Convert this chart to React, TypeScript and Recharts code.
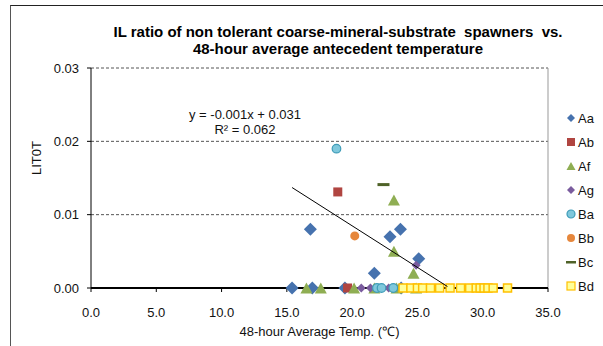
import React from "react";
import { ScatterChart, Scatter, XAxis, YAxis, CartesianGrid, ReferenceLine, Label } from "recharts";

const xTicks = [0, 5, 10, 15, 20, 25, 30, 35];
const yTicks = [0, 0.01, 0.02, 0.03];

const aaX = [15.4, 16.8, 16.95, 19.45, 21.7, 22.9, 23.7, 25.1, 23.75];
const aaY = [0, 0.008, 0, 0, 0.002, 0.007, 0.008, 0.004, 0];
const abX = [18.9, 19.65];
const abY = [0.0131, 0];
const afX = [23.2, 23.2, 24.7, 16.5, 17.6, 20.15, 21.7, 23.4, 24.9];
const afY = [0.012, 0.005, 0.002, 0, 0, 0, 0, 0, 0];
const agX = [24.9, 20.7, 21.4, 22.8];
const agY = [0.0031, 0, 0, 0];
const baX = [18.8, 21.9, 22.25, 23.15];
const baY = [0.019, 0, 0, 0];
const bbX = [20.2];
const bbY = [0.0071];
const bcX = [22.4];
const bcY = [0.0141];
const bdX = [23.9, 24.5, 25.0, 25.4, 26.0, 26.7, 27.5, 28.3, 29.0, 29.5, 29.8, 30.1, 30.4, 30.8, 31.9];
const bdY = [0, 0, 0, 0, 0, 0, 0, 0, 0, 0, 0, 0, 0, 0, 0];
const trendX = [15.4, 27.3];
const trendY = [0.0137, 0.0002];

const zip = (xs: number[], ys: number[]) => xs.map((x, i) => ({ x, y: ys[i] }));

const FONT = "'Liberation Sans', Arial, sans-serif";

const diamond = (r: number, fill: string) => (p: any) => (
  <path d={`M${p.cx},${p.cy - r}L${p.cx + r},${p.cy}L${p.cx},${p.cy + r}L${p.cx - r},${p.cy}Z`} fill={fill} />
);
const square = (s: number, fill: string, stroke?: string) => (p: any) => (
  <rect x={p.cx - s / 2} y={p.cy - s / 2} width={s} height={s} fill={fill} stroke={stroke || "none"} strokeWidth={stroke ? 1.5 : 0} />
);
const triangle = (w: number, h: number, fill: string) => (p: any) => (
  <path d={`M${p.cx},${p.cy - h / 2}L${p.cx + w / 2},${p.cy + h / 2}L${p.cx - w / 2},${p.cy + h / 2}Z`} fill={fill} />
);
const circle = (r: number, fill: string, stroke?: string) => (p: any) => (
  <circle cx={p.cx} cy={p.cy} r={r} fill={fill} stroke={stroke || "none"} strokeWidth={stroke ? 1.2 : 0} />
);
const dash = (w: number, h: number, fill: string) => (p: any) => (
  <rect x={p.cx - w / 2} y={p.cy - h / 2} width={w} height={h} fill={fill} />
);

const series = [
  { name: "Aa", xs: aaX, ys: aaY, shape: diamond(6.5, "#4672AE"), icon: "diamond", color: "#4672AE" },
  { name: "Ab", xs: abX, ys: abY, shape: square(9, "#B04541"), icon: "square", color: "#B04541" },
  { name: "Af", xs: afX, ys: afY, shape: triangle(12, 11, "#8FAE53"), icon: "triangle", color: "#8FAE53" },
  { name: "Ag", xs: agX, ys: agY, shape: diamond(4.5, "#7A5C9E"), icon: "diamond", color: "#7A5C9E" },
  { name: "Ba", xs: baX, ys: baY, shape: circle(4.3, "#7FC8DC", "#3F9CB8"), icon: "circle", color: "#7FC8DC", stroke: "#3F9CB8" },
  { name: "Bb", xs: bbX, ys: bbY, shape: circle(4.5, "#E6873C"), icon: "circle", color: "#E6873C" },
  { name: "Bc", xs: bcX, ys: bcY, shape: dash(12, 3, "#4F6228"), icon: "dash", color: "#4F6228" },
  { name: "Bd", xs: bdX, ys: bdY, shape: square(8, "#FFFF99", "#FFC000"), icon: "square", color: "#FFFF99", stroke: "#FFC000" },
];

const LegendIcon = ({ s }: { s: any }) => {
  let el: any = null;
  if (s.icon === "diamond") el = <path d="M5,1L9,5L5,9L1,5Z" fill={s.color} />;
  if (s.icon === "square") el = <rect x={1} y={1} width={8} height={8} fill={s.color} stroke={s.stroke || "none"} strokeWidth={s.stroke ? 1.2 : 0} />;
  if (s.icon === "triangle") el = <path d="M5,1L9.5,9L0.5,9Z" fill={s.color} />;
  if (s.icon === "circle") el = <circle cx={5} cy={5} r={4} fill={s.color} stroke={s.stroke || "none"} strokeWidth={s.stroke ? 1.2 : 0} />;
  if (s.icon === "dash") el = <rect x={0} y={4} width={10} height={2.5} fill={s.color} />;
  return (
    <svg width={10} height={10} style={{ display: "block" }}>
      {el}
    </svg>
  );
};

const YLabel = (props: any) => {
  const vb = props.viewBox || {};
  const cy = (vb.y || 0) + (vb.height || 0) / 2 - 20;
  return (
    <text x={41} y={cy} transform={`rotate(-90, 41, ${cy})`} textAnchor="middle" fill="#111" fontSize={13} fontFamily={FONT}>
      LIT0T
    </text>
  );
};

export default function App() {
  return (
    <div style={{ position: "absolute", left: 0, top: 0, width: 603, height: 346, overflow: "hidden", background: "#fff", fontFamily: FONT }}>
      <div style={{ position: "absolute", left: 10, top: 5, width: 620, height: 360, borderLeft: "1px solid #555", borderTop: "1px solid #222" }} />
      <div style={{ position: "absolute", left: 0, top: 0 }}>
        <ScatterChart width={603} height={346} margin={{ top: 68, right: 55, bottom: 18, left: 31 }}>
          <CartesianGrid vertical={false} stroke="#555" strokeDasharray="3 2" />
          <XAxis
            type="number"
            dataKey="x"
            domain={[0, 35]}
            ticks={xTicks}
            height={40}
            tickFormatter={(v: number) => v.toFixed(1)}
            axisLine={false}
            tickLine={{ stroke: "#000" }}
            tickSize={4}
            tickMargin={16}
            tick={{ fill: "#111", fontSize: 13, fontFamily: FONT }}
          >
            <Label value="48-hour Average Temp. (℃)" position="bottom" offset={-1} style={{ fill: "#111", fontSize: 13, fontFamily: FONT }} />
          </XAxis>
          <YAxis
            type="number"
            dataKey="y"
            domain={[0, 0.03]}
            ticks={yTicks}
            width={60}
            tickFormatter={(v: number) => v.toFixed(2)}
            axisLine={{ stroke: "#000" }}
            tickLine={{ stroke: "#000" }}
            tickSize={4}
            tickMargin={8}
            tick={{ fill: "#111", fontSize: 13, fontFamily: FONT }}
          >
            <Label content={YLabel} />
          </YAxis>
          <ReferenceLine x={35} stroke="#999" />
          <ReferenceLine y={0} stroke="#000" strokeWidth={2} />
          {series.map((s) => (
            <Scatter key={s.name} name={s.name} data={zip(s.xs, s.ys)} shape={s.shape} isAnimationActive={false} />
          ))}
          <Scatter
            name="trend"
            data={zip(trendX, trendY)}
            line={{ stroke: "#000", strokeWidth: 1 }}
            shape={() => <g />}
            legendType="none"
            isAnimationActive={false}
          />
        </ScatterChart>
      </div>
      <div style={{ position: "absolute", left: 0, width: 676, top: 23, textAlign: "center", fontWeight: "bold", fontSize: 15, lineHeight: "17px", color: "#000", whiteSpace: "pre" }}>
        {"IL ratio of non tolerant coarse-mineral-substrate  spawners  vs.\n48-hour average antecedent temperature"}
      </div>
      <div style={{ position: "absolute", left: 145, width: 200, top: 107, textAlign: "center", fontSize: 13, lineHeight: "15px", color: "#111" }}>
        <div>y = -0.001x + 0.031</div>
        <div>R² = 0.062</div>
      </div>
      <div style={{ position: "absolute", left: 566, top: 106 }}>
        {series.map((s) => (
          <div key={s.name} style={{ display: "flex", alignItems: "center", height: 24, fontSize: 13, color: "#111" }}>
            <LegendIcon s={s} />
            <span style={{ marginLeft: 2 }}>{s.name}</span>
          </div>
        ))}
      </div>
    </div>
  );
}
